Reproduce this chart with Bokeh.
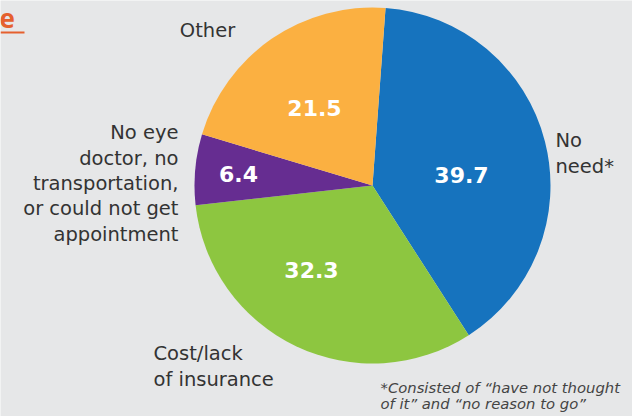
from bokeh.plotting import figure
from bokeh.models import Range1d, ColumnDataSource, Label
from bokeh.core.properties import value
from bokeh.embed import file_html
from bokeh.resources import INLINE
import numpy as np

# Data
categories = ["No need*", "Cost/lack of insurance",
              "No eye doctor, no transportation, or could not get appointment", "Other"]
values = [39.7, 32.3, 6.4, 21.5]
value_labels = ["39.7", "32.3", "6.4", "21.5"]
colors = ["#1673be", "#8dc640", "#662d91", "#fbb041"]

W, H = 632, 416
BG = "#e6e7e8"
cx, cy, R = 372, H - 185, 178
start_offset = np.deg2rad(4.2)

p = figure(width=W, height=H, x_range=Range1d(0, W), y_range=Range1d(0, H),
           output_backend="svg", toolbar_location=None, min_border=0)
p.axis.visible = False
p.grid.visible = False
p.outline_line_color = None
p.background_fill_color = BG
p.border_fill_color = BG

frac = np.array(values) / sum(values)
cum = np.concatenate([[0], np.cumsum(frac)])
starts = np.pi / 2 - start_offset - cum[:-1] * 2 * np.pi
ends = np.pi / 2 - start_offset - cum[1:] * 2 * np.pi
src = ColumnDataSource(dict(start=starts, end=ends, color=colors,
                            x=[cx] * 4, y=[cy] * 4))
p.wedge(x="x", y="y", radius=R, start_angle="start", end_angle="end",
        direction="clock", fill_color="color", line_color=None, source=src)

# value labels (layout positions in pixels from top-left)
lab_pos = [(461, 174), (311, 269), (238, 173), (314, 107)]
p.text(x=[a for a, b in lab_pos], y=[H - b for a, b in lab_pos], text=value_labels,
       text_color="white", text_font=value("DejaVu Sans"), text_font_style="bold",
       text_font_size="22px", text_align="center", text_baseline="middle")

# category labels
cat_font = dict(text_font=value("DejaVu Sans"), text_font_size="19.5px", text_color="#333333",
                text_baseline="middle", text_line_height=1.1)
p.text(x=[555], y=[H - 153], text=["No\nneed*"], text_align="left", **cat_font)
p.text(x=[178], y=[H - 183], text=["No eye\ndoctor, no\ntransportation,\nor could not get\nappointment"],
       text_align="right", **cat_font)
p.text(x=[153], y=[H - 366], text=["Cost/lack\nof insurance"], text_align="left", **cat_font)
p.text(x=[207], y=[H - 30], text=["Other"], text_align="center", **cat_font)

# footnote
p.text(x=[380], y=[H - 395], text=["*Consisted of \u201chave not thought\nof it\u201d and \u201cno reason to go\u201d"],
       text_align="left", text_baseline="middle", text_font=value("DejaVu Sans"),
       text_font_style="italic", text_font_size="14.8px", text_color="#444444",
       text_line_height=0.95)

# cropped title fragment
p.add_layout(Label(x=0, y=H - 18, text="e", text_color="#e5602e", text_font="Open Sans",
                   text_font_style="bold", text_font_size="26px", text_baseline="middle",
                   x_offset=-1))
p.line(x=[0, 24], y=[H - 32, H - 32], line_color="#e5602e", line_width=2)

open("out.html", "w").write(file_html(p, INLINE))
